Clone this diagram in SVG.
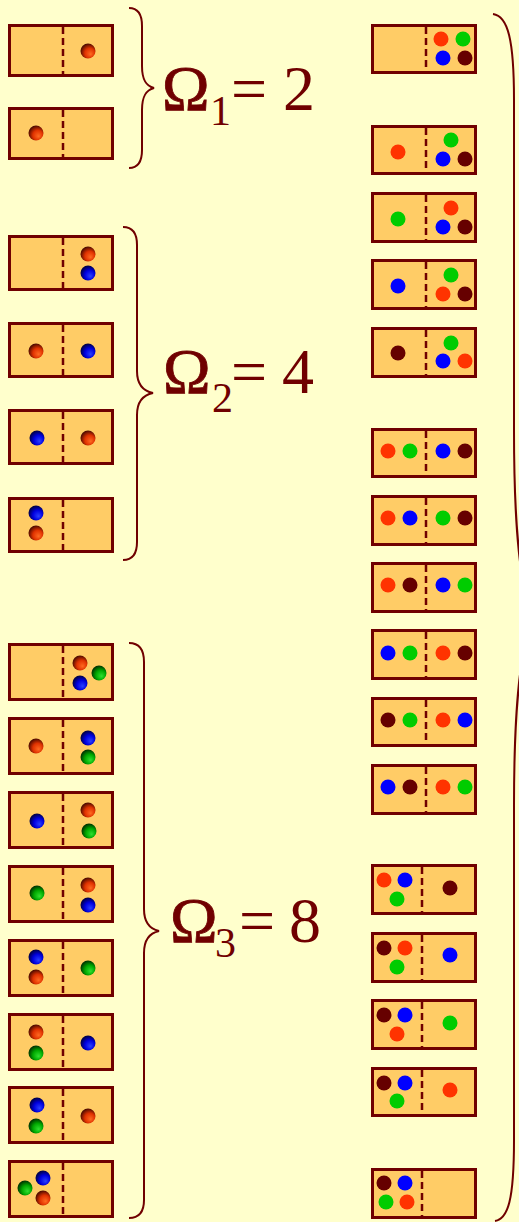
<svg xmlns="http://www.w3.org/2000/svg" width="519" height="1222" viewBox="0 0 519 1222">
<defs>
<radialGradient id="gR" cx="0.58" cy="0.6" r="0.6" fx="0.68" fy="0.72"><stop offset="0" stop-color="#ff6a20"/><stop offset="0.55" stop-color="#e03200"/><stop offset="1" stop-color="#4a0a00"/></radialGradient>
<radialGradient id="gB" cx="0.58" cy="0.6" r="0.6" fx="0.68" fy="0.72"><stop offset="0" stop-color="#2a40ff"/><stop offset="0.55" stop-color="#0000e0"/><stop offset="1" stop-color="#000040"/></radialGradient>
<radialGradient id="gG" cx="0.58" cy="0.6" r="0.6" fx="0.68" fy="0.72"><stop offset="0" stop-color="#30e030"/><stop offset="0.55" stop-color="#00a800"/><stop offset="1" stop-color="#003000"/></radialGradient>
<style>
.box{fill:#ffcc66;stroke:#700000;stroke-width:3}
.dv{stroke:#700000;stroke-width:2.5;stroke-dasharray:7 4;fill:none}
.br{fill:none;stroke:#700000;stroke-width:2}
.r{fill:url(#gR)}.b{fill:url(#gB)}.g{fill:url(#gG)}
.fr{fill:#ff3300}.fg{fill:#00cc00}.fb{fill:#0000ff}.fd{fill:#660000}
.t{font-family:"Liberation Serif","Times New Roman",serif;fill:#700000}
.big{font-size:64px}.sub{font-size:42px}
.om{stroke:#700000;stroke-width:0.8}
</style>
</defs>
<rect width="519" height="1222" fill="#ffffcc"/>

<!-- left group 1 -->
<g id="L1a"><rect class="box" x="9.5" y="25.5" width="103" height="50"/><line class="dv" x1="63" y1="27" x2="63" y2="75"/><circle class="r" cx="88" cy="51" r="7.5"/></g>
<g id="L1b"><rect class="box" x="9.5" y="108.5" width="103" height="50"/><line class="dv" x1="63" y1="110" x2="63" y2="158"/><circle class="r" cx="36" cy="133" r="7.5"/></g>

<!-- left group 2 -->
<g id="L2a"><rect class="box" x="9.5" y="236.5" width="103" height="53"/><line class="dv" x1="63" y1="238" x2="63" y2="289"/><circle class="r" cx="88" cy="254" r="7.5"/><circle class="b" cx="88" cy="273" r="7.5"/></g>
<g id="L2b"><rect class="box" x="9.5" y="323.5" width="103" height="53"/><line class="dv" x1="63" y1="325" x2="63" y2="376"/><circle class="r" cx="36" cy="351" r="7.5"/><circle class="b" cx="88" cy="351" r="7.5"/></g>
<g id="L2c"><rect class="box" x="9.5" y="410.5" width="103" height="53"/><line class="dv" x1="63" y1="412" x2="63" y2="463"/><circle class="b" cx="37" cy="438" r="7.5"/><circle class="r" cx="88" cy="438" r="7.5"/></g>
<g id="L2d"><rect class="box" x="9.5" y="498.5" width="103" height="53"/><line class="dv" x1="63" y1="500" x2="63" y2="551"/><circle class="b" cx="36" cy="513" r="7.5"/><circle class="r" cx="36" cy="533" r="7.5"/></g>

<!-- left group 3 -->
<g id="L3a"><rect class="box" x="9.5" y="644.5" width="103" height="55"/><line class="dv" x1="63" y1="646" x2="63" y2="699"/><circle class="r" cx="80" cy="663" r="7.5"/><circle class="g" cx="99" cy="673" r="7.5"/><circle class="b" cx="80" cy="683" r="7.5"/></g>
<g id="L3b"><rect class="box" x="9.5" y="718.5" width="103" height="55"/><line class="dv" x1="63" y1="720" x2="63" y2="773"/><circle class="r" cx="36" cy="746" r="7.5"/><circle class="b" cx="88" cy="738" r="7.5"/><circle class="g" cx="88" cy="757" r="7.5"/></g>
<g id="L3c"><rect class="box" x="9.5" y="792.5" width="103" height="55"/><line class="dv" x1="63" y1="794" x2="63" y2="847"/><circle class="b" cx="37" cy="821" r="7.5"/><circle class="r" cx="88" cy="810" r="7.5"/><circle class="g" cx="89" cy="831" r="7.5"/></g>
<g id="L3d"><rect class="box" x="9.5" y="866.5" width="103" height="55"/><line class="dv" x1="63" y1="868" x2="63" y2="921"/><circle class="g" cx="37" cy="893" r="7.5"/><circle class="r" cx="88" cy="885" r="7.5"/><circle class="b" cx="88" cy="905" r="7.5"/></g>
<g id="L3e"><rect class="box" x="9.5" y="940.5" width="103" height="55"/><line class="dv" x1="63" y1="942" x2="63" y2="995"/><circle class="b" cx="36" cy="957" r="7.5"/><circle class="r" cx="36" cy="977" r="7.5"/><circle class="g" cx="88" cy="968" r="7.5"/></g>
<g id="L3f"><rect class="box" x="9.5" y="1014.5" width="103" height="55"/><line class="dv" x1="63" y1="1016" x2="63" y2="1069"/><circle class="r" cx="36" cy="1032" r="7.5"/><circle class="g" cx="36" cy="1053" r="7.5"/><circle class="b" cx="88" cy="1043" r="7.5"/></g>
<g id="L3g"><rect class="box" x="9.5" y="1087.5" width="103" height="55"/><line class="dv" x1="63" y1="1089" x2="63" y2="1142"/><circle class="b" cx="37" cy="1105" r="7.5"/><circle class="g" cx="36" cy="1126" r="7.5"/><circle class="r" cx="88" cy="1116" r="7.5"/></g>
<g id="L3h"><rect class="box" x="9.5" y="1161.5" width="103" height="55"/><line class="dv" x1="63" y1="1163" x2="63" y2="1216"/><circle class="b" cx="43" cy="1178" r="7.5"/><circle class="g" cx="25" cy="1188" r="7.5"/><circle class="r" cx="43" cy="1198" r="7.5"/></g>

<!-- right column -->
<g id="R1"><rect class="box" x="372.5" y="25.5" width="103" height="47"/><line class="dv" x1="426" y1="27" x2="426" y2="72"/><circle class="fr" cx="441" cy="39" r="7.5"/><circle class="fg" cx="463" cy="39" r="7.5"/><circle class="fb" cx="443" cy="58" r="7.5"/><circle class="fd" cx="465" cy="58" r="7.5"/></g>
<g id="R2"><rect class="box" x="372.5" y="126.5" width="103" height="47"/><line class="dv" x1="426" y1="128" x2="426" y2="173"/><circle class="fr" cx="398" cy="152" r="7.5"/><circle class="fg" cx="451" cy="140" r="7.5"/><circle class="fb" cx="443" cy="159" r="7.5"/><circle class="fd" cx="465" cy="159" r="7.5"/></g>
<g id="R3"><rect class="box" x="372.5" y="193.5" width="103" height="48"/><line class="dv" x1="426" y1="195" x2="426" y2="241"/><circle class="fg" cx="398" cy="219" r="7.5"/><circle class="fr" cx="451" cy="208" r="7.5"/><circle class="fb" cx="443" cy="227" r="7.5"/><circle class="fd" cx="465" cy="227" r="7.5"/></g>
<g id="R4"><rect class="box" x="372.5" y="260.5" width="103" height="48"/><line class="dv" x1="426" y1="262" x2="426" y2="308"/><circle class="fb" cx="398" cy="286" r="7.5"/><circle class="fg" cx="451" cy="275" r="7.5"/><circle class="fr" cx="443" cy="294" r="7.5"/><circle class="fd" cx="465" cy="294" r="7.5"/></g>
<g id="R5"><rect class="box" x="372.5" y="328.5" width="103" height="48"/><line class="dv" x1="426" y1="330" x2="426" y2="376"/><circle class="fd" cx="398" cy="353" r="7.5"/><circle class="fg" cx="451" cy="343" r="7.5"/><circle class="fb" cx="443" cy="361" r="7.5"/><circle class="fr" cx="465" cy="361" r="7.5"/></g>
<g id="R6"><rect class="box" x="372.5" y="429.5" width="103" height="47"/><line class="dv" x1="426" y1="431" x2="426" y2="476"/><circle class="fr" cx="388" cy="451" r="7.5"/><circle class="fg" cx="410" cy="451" r="7.5"/><circle class="fb" cx="443" cy="451" r="7.5"/><circle class="fd" cx="465" cy="451" r="7.5"/></g>
<g id="R7"><rect class="box" x="372.5" y="496.5" width="103" height="48"/><line class="dv" x1="426" y1="498" x2="426" y2="544"/><circle class="fr" cx="388" cy="518" r="7.5"/><circle class="fb" cx="410" cy="518" r="7.5"/><circle class="fg" cx="443" cy="518" r="7.5"/><circle class="fd" cx="465" cy="518" r="7.5"/></g>
<g id="R8"><rect class="box" x="372.5" y="563.5" width="103" height="48"/><line class="dv" x1="426" y1="565" x2="426" y2="611"/><circle class="fr" cx="388" cy="585" r="7.5"/><circle class="fd" cx="410" cy="585" r="7.5"/><circle class="fb" cx="443" cy="585" r="7.5"/><circle class="fg" cx="465" cy="585" r="7.5"/></g>
<g id="R9"><rect class="box" x="372.5" y="630.5" width="103" height="48"/><line class="dv" x1="426" y1="632" x2="426" y2="678"/><circle class="fb" cx="388" cy="653" r="7.5"/><circle class="fg" cx="410" cy="653" r="7.5"/><circle class="fr" cx="443" cy="653" r="7.5"/><circle class="fd" cx="465" cy="653" r="7.5"/></g>
<g id="R10"><rect class="box" x="372.5" y="698.5" width="103" height="47"/><line class="dv" x1="426" y1="700" x2="426" y2="745"/><circle class="fd" cx="388" cy="720" r="7.5"/><circle class="fg" cx="410" cy="720" r="7.5"/><circle class="fr" cx="443" cy="720" r="7.5"/><circle class="fb" cx="465" cy="720" r="7.5"/></g>
<g id="R11"><rect class="box" x="372.5" y="765.5" width="103" height="48"/><line class="dv" x1="426" y1="767" x2="426" y2="813"/><circle class="fb" cx="388" cy="787" r="7.5"/><circle class="fd" cx="410" cy="787" r="7.5"/><circle class="fr" cx="443" cy="787" r="7.5"/><circle class="fg" cx="465" cy="787" r="7.5"/></g>
<g id="R12"><rect class="box" x="372.5" y="865.5" width="103" height="48"/><line class="dv" x1="422" y1="867" x2="422" y2="913"/><circle class="fr" cx="384" cy="880" r="7.5"/><circle class="fb" cx="405" cy="880" r="7.5"/><circle class="fg" cx="397" cy="899" r="7.5"/><circle class="fd" cx="450" cy="888" r="7.5"/></g>
<g id="R13"><rect class="box" x="372.5" y="933.5" width="103" height="48"/><line class="dv" x1="422" y1="935" x2="422" y2="981"/><circle class="fd" cx="384" cy="948" r="7.5"/><circle class="fr" cx="405" cy="948" r="7.5"/><circle class="fg" cx="397" cy="967" r="7.5"/><circle class="fb" cx="450" cy="955" r="7.5"/></g>
<g id="R14"><rect class="box" x="372.5" y="1000.5" width="103" height="48"/><line class="dv" x1="422" y1="1002" x2="422" y2="1048"/><circle class="fd" cx="384" cy="1015" r="7.5"/><circle class="fb" cx="405" cy="1015" r="7.5"/><circle class="fr" cx="397" cy="1034" r="7.5"/><circle class="fg" cx="450" cy="1023" r="7.5"/></g>
<g id="R15"><rect class="box" x="372.5" y="1068.5" width="103" height="47"/><line class="dv" x1="422" y1="1070" x2="422" y2="1115"/><circle class="fd" cx="384" cy="1083" r="7.5"/><circle class="fb" cx="405" cy="1083" r="7.5"/><circle class="fg" cx="397" cy="1101" r="7.5"/><circle class="fr" cx="450" cy="1090" r="7.5"/></g>
<g id="R16"><rect class="box" x="372.5" y="1169.5" width="103" height="48"/><line class="dv" x1="422" y1="1171" x2="422" y2="1217"/><circle class="fd" cx="384" cy="1183" r="7.5"/><circle class="fb" cx="405" cy="1183" r="7.5"/><circle class="fg" cx="386" cy="1202" r="7.5"/><circle class="fr" cx="407" cy="1202" r="7.5"/></g>

<!-- braces -->
<g id="braces">
<path class="br" d="M129,8 C138,8 142,14 142,26 L142,66 C142,80 146,86 154,88 C146,90 142,96 142,110 L142,150 C142,162 138,168 129,168"/>
<path class="br" d="M123,227 C132,227 137,233 137,245 L137,371 C137,385 143,391 153,393 C143,395 137,401 137,415 L137,542 C137,554 132,560 123,560"/>
<path class="br" d="M129,643 C139,643 144,650 144,662 L144,909 C144,923 150,929 159,931 C150,933 144,939 144,953 L144,1200 C144,1212 139,1218 129,1218"/>
<path class="br" d="M493,14 C508,16 514,40 514,100 L514,430 C514,530 520,590 534,618 C520,646 514,706 514,806 L514,1140 C514,1200 508,1219 495,1221"/>
</g>

<!-- labels -->
<g id="label1" class="t"><text class="big om" x="162" y="110">Ω</text><text class="sub" x="210" y="125">1</text><text class="big" x="231" y="110">=</text><text class="big" x="283" y="110">2</text></g>
<g id="label2" class="t"><text class="big om" x="163" y="393">Ω</text><text class="sub" x="212" y="412">2</text><text class="big" x="231" y="393">=</text><text class="big" x="282" y="393">4</text></g>
<g id="label3" class="t"><text class="big om" x="170" y="942">Ω</text><text class="sub" x="215" y="957">3</text><text class="big" x="239" y="942">=</text><text class="big" x="289" y="942">8</text></g>
</svg>
